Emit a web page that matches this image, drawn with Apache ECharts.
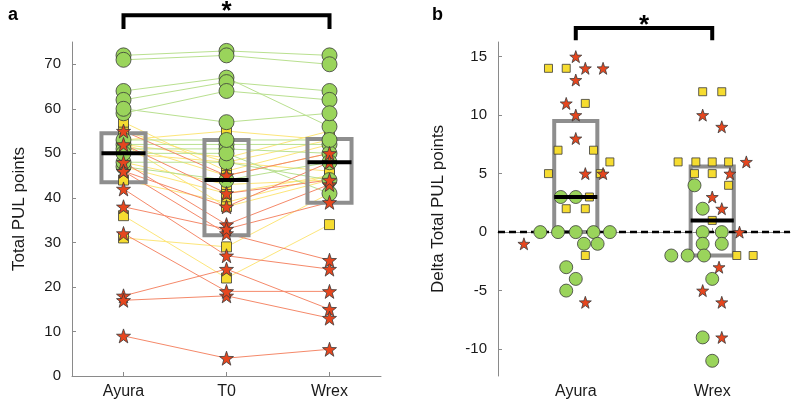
<!DOCTYPE html>
<html><head><meta charset="utf-8">
<script src="https://cdn.jsdelivr.net/npm/echarts@6/dist/echarts.min.js"></script>
<style>html,body{margin:0;padding:0;background:#fff}#c{width:797px;height:406px}</style>
</head><body><div id="c"></div>
<script>
// ---------- DATA ----------
const groupsA = ['Ayura', 'T0', 'Wrex'];
const groupsB = ['Ayura', 'Wrex'];
const yTicksA = [0, 10, 20, 30, 40, 50, 60, 70];
const yTicksB = [-10, -5, 0, 5, 10, 15];

// Panel a: one entry per subject at Ayura / T0 / Wrex
const circAyura = [72, 71, 64, 62, 59, 60, 52, 51, 47, 48, 50, 53];
const circT0    = [73, 72, 67, 66, 64, 57, 52, 51, 44, 48, 50, 53];
const circWrex  = [72, 70, 56, 64, 62, 59, 52, 50, 48, 44, 41, 53];
const sqAyura   = [36, 31, 53, 52, 55, 44, 52, 57, 52, 47, 48, 50];
const sqT0      = [22, 29, 55, 49, 48, 39, 38, 46, 45, 41, 43, 48];
const sqWrex    = [34, 41, 53, 55, 53, 45, 44, 52, 50, 45, 44, 46];
const starAyura = [9, 18, 17, 32, 42, 46, 48, 55, 52, 46, 38];
const starT0    = [4, 24, 18, 19, 27, 32, 34, 45, 41, 38, 33];
const starWrex  = [6, 15, 13, 19, 24, 26, 43, 50, 44, 48, 39];

// box stats [q1, median, q3]
const boxStatsA = [[43.5, 50, 54.5], [31.6, 44, 53], [38.9, 48, 53.2]];
const boxStatsB = [[0, 3, 9.5], [-2, 1, 5.6]];

// Panel b: delta values and their beeswarm jitter
const bAyuraStar = [15, 14, 14, 13, 11, 10, 8, 5, 5, -1, -6];
const bAyuraStarJit = [0, 0.07, 0.2, 0, -0.07, 0, 0, 0.07, 0.2, -0.38, 0.07];
const bAyuraSq = [14, 14, 11, 7, 7, 6, 5, 5, 3, 2, 2, -2];
const bAyuraSqJit = [-0.2, -0.07, 0.07, -0.13, 0.13, 0.25, -0.2, 0.18, 0.1, -0.07, 0.07, 0.07];
const bAyuraCirc = [3, 3, 0, 0, 0, 0, 0, -1, -1, -3, -4, -5];
const bAyuraCircJit = [-0.11, 0, -0.26, -0.13, 0, 0.13, 0.25, 0.06, 0.16, -0.07, 0, -0.07];
const bWrexSq = [12, 12, 6, 6, 6, 6, 5, 5, 4, 1, -2, -2];
const bWrexSqJit = [-0.07, 0.07, -0.25, -0.12, 0, 0.12, -0.13, 0, 0.12, 0, 0.18, 0.3];
const bWrexStar = [10, 9, 6, 5, 3, 2, 0, -3, -5, -6, -9];
const bWrexStarJit = [-0.07, 0.07, 0.25, 0.13, 0, 0.07, 0.2, 0.05, -0.07, 0.07, 0.07];
const bWrexCirc = [4, 2, 0, 0, -1, -1, -2, -2, -2, -4, -9, -11];
const bWrexCircJit = [-0.13, -0.07, -0.07, 0.07, -0.07, 0.07, -0.3, -0.18, -0.06, 0, -0.07, 0];

// ---------- STYLE ----------
const FONT = "'Liberation Sans', Arial, sans-serif";
const C_GREEN = '#9ad45b', C_YEL = '#f6dc30', C_RED = '#e6461e';
const L_GREEN = '#b9e08f', L_YEL = '#fde67a', L_RED = '#f5896a';
const EDGE = { borderColor: '#3a3a3a', borderWidth: 0.8 };
const STAR = (() => {
  let d = '';
  for (let i = 0; i < 10; i++) {
    const r = i % 2 ? 0.4 : 1, a = -Math.PI / 2 + i * Math.PI / 5;
    d += (i ? 'L' : 'M') + (50 + 50 * r * Math.cos(a)).toFixed(2) + ' ' + (50 + 50 * r * Math.sin(a)).toFixed(2);
  }
  return 'path://' + d + 'Z';
})();

const series = [];
// subject lines panel a
function addLines(A, T, W, color) {
  A.forEach((a, i) => series.push({
    type: 'line', xAxisIndex: 0, yAxisIndex: 0, silent: true, showSymbol: false, symbol: 'none', z: 1,
    data: [[1, a], [2, T[i]], [3, W[i]]], lineStyle: { color, width: 1 }
  }));
}
addLines(sqAyura, sqT0, sqWrex, L_YEL);
addLines(circAyura, circT0, circWrex, L_GREEN);
addLines(starAyura, starT0, starWrex, L_RED);

function boxSeries(xi, stats, halfW) {
  return [{
    type: 'custom', xAxisIndex: xi, yAxisIndex: xi, silent: true, z: 2,
    data: stats.map((s, i) => [i + 1, s[0], s[1], s[2]]),
    renderItem(p, api) {
      const x = api.value(0);
      const p1 = api.coord([x - halfW, api.value(3)]), p2 = api.coord([x + halfW, api.value(1)]);
      return { type: 'rect', shape: { x: p1[0], y: p1[1], width: p2[0] - p1[0], height: p2[1] - p1[1] },
        style: { fill: 'none', stroke: '#8e8e8e', lineWidth: 4 } };
    }
  }, {
    type: 'custom', xAxisIndex: xi, yAxisIndex: xi, silent: true, z: 10,
    data: stats.map((s, i) => [i + 1, s[1]]),
    renderItem(p, api) {
      const x = api.value(0);
      const p1 = api.coord([x - halfW, api.value(1)]), p2 = api.coord([x + halfW, api.value(1)]);
      return { type: 'line', shape: { x1: p1[0], y1: p1[1], x2: p2[0], y2: p2[1] },
        style: { stroke: '#000', lineWidth: 4 } };
    }
  }];
}
series.push(...boxSeries(0, boxStatsA, 0.214));
series.push(...boxSeries(1, boxStatsB, 0.158));

function scatter(xi, data, symbol, size, color, z) {
  return { type: 'scatter', xAxisIndex: xi, yAxisIndex: xi, silent: true, z, symbol, symbolSize: size,
    data, itemStyle: Object.assign({ color, opacity: 1 }, EDGE) };
}
const three = (A, T, W) => A.map(v => [1, v]).concat(T.map(v => [2, v]), W.map(v => [3, v]));
series.push(scatter(0, three(sqAyura, sqT0, sqWrex), 'rect', [10, 10], C_YEL, 3));
series.push(scatter(0, three(circAyura, circT0, circWrex), 'circle', 15, C_GREEN, 4));
series.push(scatter(0, three(starAyura, starT0, starWrex), STAR, 14, C_RED, 5));

const jit = (x, vals, j) => vals.map((v, i) => [x + j[i], v]);
// dashed zero line panel b
series.push({ type: 'line', xAxisIndex: 1, yAxisIndex: 1, silent: true, showSymbol: false, symbol: 'none', z: 2,
  data: [[0.43, 0], [2.57, 0]], lineStyle: { color: '#000', width: 2.5, type: [7, 4] } });
series.push(scatter(1, jit(1, bAyuraSq, bAyuraSqJit).concat(jit(2, bWrexSq, bWrexSqJit)), 'rect', [8, 8], C_YEL, 3));
series.push(scatter(1, jit(1, bAyuraCirc, bAyuraCircJit).concat(jit(2, bWrexCirc, bWrexCircJit)), 'circle', 13, C_GREEN, 4));
series.push(scatter(1, jit(1, bAyuraStar, bAyuraStarJit).concat(jit(2, bWrexStar, bWrexStarJit)), STAR, 12, C_RED, 5));

// significance brackets
function bracket(xi, x1, x2, yTop, yLeg, yStar) {
  return { type: 'custom', xAxisIndex: xi, yAxisIndex: xi, silent: true, z: 20, clip: false,
    data: [[x1, yTop]],
    renderItem(p, api) {
      const a = api.coord([x1, yLeg]), b = api.coord([x1, yTop]), c = api.coord([x2, yTop]), d = api.coord([x2, yLeg]);
      const s = api.coord([(x1 + x2) / 2, yStar]);
      return { type: 'group', children: [
        { type: 'polyline', shape: { points: [a, b, c, d] }, style: { fill: 'none', stroke: '#000', lineWidth: 4 } },
        { type: 'text', x: s[0], y: s[1], style: { text: '*', fontSize: 26, fontFamily: FONT, fontWeight: 'bold', fill: '#000', align: 'center', verticalAlign: 'middle' } }
      ] };
    }
  };
}
series.push(bracket(0, 1, 3, 81, 77.9, 81.8));
series.push(bracket(1, 1, 2, 17.45, 16.4, 17.6));

const axisCommon = {
  axisLine: { show: true, lineStyle: { color: '#8a8a8a', width: 1 } },
  axisTick: { show: true, inside: true, length: 4, lineStyle: { color: '#8a8a8a' } },
  splitLine: { show: false },
  axisLabel: { color: '#1a1a1a', fontSize: 15, fontFamily: FONT }
};
function xAx(gi, min, max, names) {
  const vals = names.map((n, i) => i + 1);
  return Object.assign({}, axisCommon, { type: 'value', gridIndex: gi, min, max,
    axisTick: Object.assign({}, axisCommon.axisTick, { customValues: vals }),
    axisLabel: Object.assign({}, axisCommon.axisLabel, { customValues: vals, margin: 8, fontSize: 16, formatter: v => names[Math.round(v) - 1] || '' }) });
}
function yAx(gi, min, max, ticks, name, gap) {
  return Object.assign({}, axisCommon, { type: 'value', gridIndex: gi, min, max,
    name, nameLocation: 'middle', nameGap: gap, nameRotate: 90,
    nameTextStyle: { fontSize: 17, fontFamily: FONT, color: '#1a1a1a' },
    axisTick: Object.assign({}, axisCommon.axisTick, { customValues: ticks }),
    axisLabel: Object.assign({}, axisCommon.axisLabel, { customValues: ticks, margin: 11 }) });
}

const chart = echarts.init(document.getElementById('c'), null, { renderer: 'canvas' });
chart.setOption({
  animation: false,
  backgroundColor: '#fff',
  textStyle: { fontFamily: FONT },
  title: [
    { text: 'a', left: 3, top: 1, textStyle: { fontSize: 18, fontWeight: 'bold', fontFamily: FONT, color: '#000' } },
    { text: 'b', left: 427, top: 1, textStyle: { fontSize: 18, fontWeight: 'bold', fontFamily: FONT, color: '#000' } }
  ],
  grid: [
    { left: 72, top: 42, width: 309, height: 334, containLabel: false, outerBoundsMode: 'none' },
    { left: 498, top: 42, width: 292, height: 334, containLabel: false, outerBoundsMode: 'none' }
  ],
  xAxis: [xAx(0, 0.5, 3.5, groupsA), xAx(1, 0.43, 2.57, groupsB)],
  yAxis: [yAx(0, 0, 75, yTicksA, 'Total PUL points', 44), yAx(1, -12.3, 16.25, yTicksB, 'Delta Total PUL points', 51)],
  series
});
</script></body></html>
